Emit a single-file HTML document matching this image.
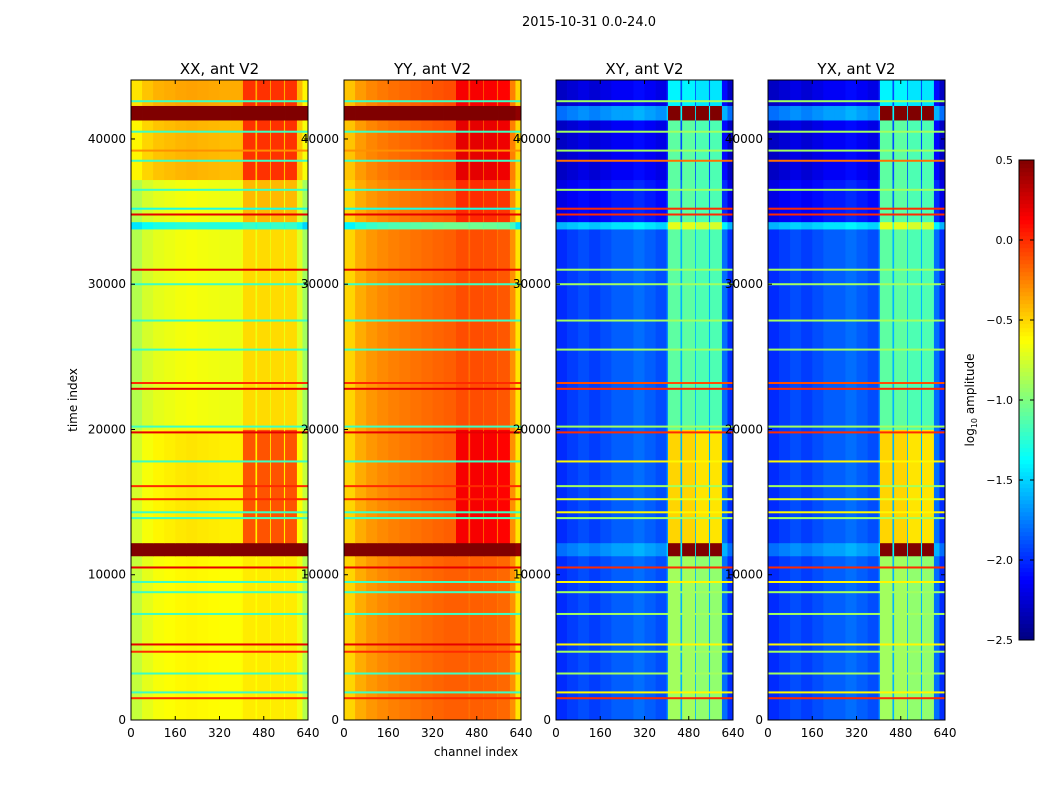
<!DOCTYPE html>
<html><head><meta charset="utf-8"><style>
body{margin:0;background:#fff;width:1050px;height:800px;overflow:hidden;font-family:"DejaVu Sans","Liberation Sans",sans-serif}
svg text{font-family:"DejaVu Sans","Liberation Sans",sans-serif}
</style></head><body>
<svg id="fig" width="1050" height="800" xmlns="http://www.w3.org/2000/svg">
<text x="589" y="26" font-size="13" text-anchor="middle">2015-10-31 0.0-24.0</text>
<text x="476" y="756" font-size="12" text-anchor="middle">channel index</text>
<text x="77" y="400" font-size="12" text-anchor="middle" transform="rotate(-90 77 400)">time index</text>
<g id="panels"></g>
<g id="cbar"></g>
</svg>
<script>
// ---- data ----
const channelEdges=[0,40,80,120,160,200,240,280,320,360,400,405,450,456,503,506,553,557,600,620,640];
const stripBins=[11,13,15,17];
const timeBands=[[0,11300],[11300,12200],[12200,20000],[20000,33800],[33800,34300],[34300,37200],[37200,41300],[41300,42300],[42300,44060]];
const xxProfile=[-0.85,-0.75,-0.7,-0.68,-0.66,-0.65,-0.66,-0.67,-0.68,-0.68,-0.66,-0.62,-0.68,-0.62,-0.68,-0.62,-0.68,-0.62,-0.72,-0.9];
const yyProfile=[-0.5,-0.38,-0.32,-0.28,-0.25,-0.23,-0.21,-0.19,-0.17,-0.15,-0.15,-0.15,-0.2,-0.15,-0.2,-0.16,-0.22,-0.18,-0.3,-0.55];
const xyProfile=[-2.0,-1.95,-1.9,-1.95,-1.9,-1.85,-1.85,-1.8,-1.85,-1.9,-1.7,-1.1,-1.6,-1.1,-1.6,-1.15,-1.6,-1.15,-1.8,-2.0];
const yxProfile=[-2.0,-1.95,-1.9,-1.95,-1.9,-1.85,-1.85,-1.8,-1.85,-1.9,-1.7,-1.1,-1.6,-1.1,-1.6,-1.15,-1.6,-1.15,-1.8,-2.0];
const xxBandOffset=[0.05,1.5,0.1,0,-0.6,0,0.25,1.5,0.3];
const yyBandOffset=[0,1,0,0,-0.9,0,0.05,1,0.05];
const xyBandOffset=[0,0.2,0,0,0.4,-0.2,-0.3,0.2,-0.3];
const yxBandOffset=[0,0.2,0,0,0.4,-0.2,-0.3,0.2,-0.3];
const xxStripBoost=[0.0,0.3,0.4,0.1,0,0.2,0.35,0.3,0.3];
const yyStripBoost=[0.0,0.3,0.3,0.05,0,0.15,0.3,0.3,0.25];
const xyStripBoost=[0.2,1.5,0.6,0,0,0.2,0.3,1.5,0];
const yxStripBoost=[0.2,1.5,0.6,0,0,0.2,0.3,1.5,0];
const lineTimes=[1500,1900,3200,4700,5200,7300,8800,9500,10500,13900,14300,15200,16100,17800,19800,20200,22800,23200,25500,27500,30000,31000,34800,35200,36500,38500,39200,40500,42600];
const xxLineVals=[0,-1.2,-1.2,0,0.2,-1.2,-1.2,-1.2,0.2,-1.2,-1.2,0,0,-1.2,0.2,-1.2,0.2,0,-1.2,-1.2,-1.2,0.2,0.2,-1.3,-1.2,-1.2,-0.3,-1.2,-1.2];
const yyLineVals=[0,-1.2,-1.2,0,0.2,-1.2,-1.2,-1.2,0.2,-1.2,-1.2,0,0,-1.2,0.2,-1.2,0.2,0,-1.2,-1.2,-1.2,0.2,0.2,-1.3,-1.2,-1.2,-0.3,-1.2,-1.2];
const xyLineVals=[0,-0.6,-0.9,-0.9,-0.6,-0.9,-0.9,-0.6,0,-0.9,-0.6,-0.7,-0.9,-0.6,0,-0.9,0,-0.1,-0.9,-0.9,-0.9,-0.9,0,0,-0.9,-0.2,-0.9,-0.9,-0.9];
const yxLineVals=[0,-0.6,-0.9,-0.9,-0.6,-0.9,-0.9,-0.6,0,-0.9,-0.6,-0.7,-0.9,-0.6,0,-0.9,0,-0.1,-0.9,-0.9,-0.9,-0.9,0,0,-0.9,-0.2,-0.9,-0.9,-0.9];
const panelTitles=["XX, ant V2","YY, ant V2","XY, ant V2","YX, ant V2"];
const xTicks=[0,160,320,480,640];
const yTicks=[0,10000,20000,30000,40000];
const cbTicks=[0.5,0,-0.5,-1,-1.5,-2,-2.5];
// ---- helpers ----
const VMIN=-2.5,VMAX=0.5,TMAX=44060,CMAX=640,PY0=80,PY1=720,PW=177;
const panelX=[131,344,556,768];
function jet(v){let t=(v-VMIN)/(VMAX-VMIN);t=Math.max(0,Math.min(1,t));
 const c=x=>Math.max(0,Math.min(1,x));
 const r=c(1.5-Math.abs(4*t-3)),g=c(1.5-Math.abs(4*t-2)),b=c(1.5-Math.abs(4*t-1));
 return `rgb(${Math.round(r*255)},${Math.round(g*255)},${Math.round(b*255)})`;}
const ys=t=>PY1-(t/TMAX)*(PY1-PY0);
const NS="http://www.w3.org/2000/svg";
function mk(tag,attrs,parent){const e=document.createElementNS(NS,tag);for(const k in attrs)e.setAttribute(k,attrs[k]);parent.appendChild(e);return e;}
const profiles=[xxProfile,yyProfile,xyProfile,yxProfile];
const offsets=[xxBandOffset,yyBandOffset,xyBandOffset,yxBandOffset];
const boosts=[xxStripBoost,yyStripBoost,xyStripBoost,yxStripBoost];
const lineVals=[xxLineVals,yyLineVals,xyLineVals,yxLineVals];
const root=document.getElementById('panels');
for(let p=0;p<4;p++){
 const x0=panelX[p];const xs=c=>x0+c/CMAX*PW;
 const g=mk('g',{},root);
 
 
 for(let b=0;b<timeBands.length;b++){
  const yT=ys(timeBands[b][1]),yB=ys(timeBands[b][0]);
  for(let c=0;c<channelEdges.length-1;c++){
   const v=profiles[p][c]+offsets[p][b]+(stripBins.indexOf(c)>=0?boosts[p][b]:0);
   const r=mk('rect',{x:xs(channelEdges[c]),y:yT,width:xs(channelEdges[c+1])-xs(channelEdges[c])+0.4,height:yB-yT+0.4,fill:jet(v)},g);
   
   
  }
 }
 for(let i=0;i<lineTimes.length;i++){
  const r=mk('rect',{x:x0,y:ys(lineTimes[i])-1,width:PW,height:2,fill:jet(lineVals[p][i])},g);
  
  
 }
 mk('rect',{x:x0,y:PY0,width:PW,height:PY1-PY0,fill:'none',stroke:'#000','stroke-width':1},g);
 const t=mk('text',{x:x0+PW/2,y:74,'font-size':15,'text-anchor':'middle'},g);t.textContent=panelTitles[p];
 
 
 xTicks.forEach(v=>{const X=xs(v);
  mk('line',{x1:X,x2:X,y1:PY1,y2:PY1-4,stroke:'#000'},g);mk('line',{x1:X,x2:X,y1:PY0,y2:PY0+4,stroke:'#000'},g);
  const l=mk('text',{x:X,y:737,'font-size':12,'text-anchor':'middle'},g);l.textContent=v;
  
  });
 yTicks.forEach(v=>{const Y=ys(v);
  mk('line',{x1:x0,x2:x0+4,y1:Y,y2:Y,stroke:'#000'},g);mk('line',{x1:x0+PW,x2:x0+PW-4,y1:Y,y2:Y,stroke:'#000'},g);
  const l=mk('text',{x:x0-5,y:Y+4,'font-size':12,'text-anchor':'end'},g);l.textContent=v;
  
  });
}
// colorbar
const cb=document.getElementById('cbar');
const CB0=160,CB1=640;const cy=v=>CB1-(v-VMIN)/(VMAX-VMIN)*(CB1-CB0);
for(let i=0;i<120;i++){const v=VMIN+(i+0.5)*(VMAX-VMIN)/120;
 mk('rect',{x:1019,y:cy(v)-2.2,width:15,height:4.4,fill:jet(v)},cb);}
mk('rect',{x:1019,y:CB0,width:15,height:CB1-CB0,fill:'none',stroke:'#000'},cb);
cbTicks.forEach(v=>{const Y=cy(v);
 mk('line',{x1:1019,x2:1023,y1:Y,y2:Y,stroke:'#000'},cb);mk('line',{x1:1030,x2:1034,y1:Y,y2:Y,stroke:'#000'},cb);
 const l=mk('text',{x:1013,y:Y+4,'font-size':11,'text-anchor':'end'},cb);l.textContent=(v<0?'\u2212':'')+Math.abs(v).toFixed(1);
 
 });
const lab=mk('text',{x:974,y:400,'font-size':12,'text-anchor':'middle',transform:'rotate(-90 974 400)'},cb);


lab.innerHTML='log<tspan font-size="8" dy="3">10</tspan><tspan dy="-3"> amplitude</tspan>';
</script>
</body></html>
